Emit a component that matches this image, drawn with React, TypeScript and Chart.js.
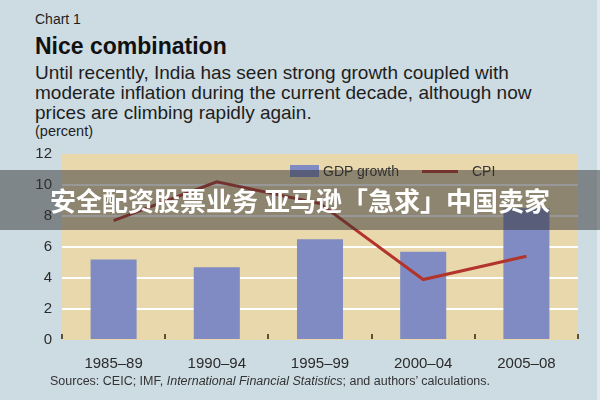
import React, { useEffect, useRef } from "react";
import { Chart, registerables } from "chart.js";

Chart.register(...registerables);

const categories = ["1985–89", "1990–94", "1995–99", "2000–04", "2005–08"];
const gdpGrowth = [5.2, 4.7, 6.5, 5.7, 8.5];
const cpi = [7.7, 10.2, 8.8, 3.9, 5.4];
const yTicks = [0, 2, 4, 6, 8, 10, 12];

const FONT = "'Liberation Sans', Arial, sans-serif";
const BAR = "#7f8bc2";
const LINE = "#b3342b";

const bgPlugin = {
  id: "plotBg",
  beforeDraw(chart: any) {
    const { ctx, chartArea } = chart;
    ctx.save();
    ctx.fillStyle = "#e9d8ac";
    ctx.fillRect(chartArea.left, chartArea.top, chartArea.right - chartArea.left, chartArea.bottom - chartArea.top);
    ctx.restore();
  },
  afterDatasetsDraw(chart: any) {
    const { ctx, chartArea } = chart;
    const n = categories.length;
    const w = (chartArea.right - chartArea.left) / n;
    ctx.save();
    ctx.fillStyle = "#5e5035";
    for (let i = 0; i <= n; i++) {
      const x = chartArea.left + i * w;
      ctx.fillRect(Math.round(x) - 1, chartArea.bottom - 6, 2, 5);
    }
    ctx.restore();
  },
};

export default function App() {
  const ref = useRef<HTMLCanvasElement>(null);
  useEffect(() => {
    document.body.style.margin = "0";
    const chart = new Chart(ref.current!, {
      type: "bar",
      data: {
        labels: categories,
        datasets: [
          {
            type: "line",
            label: "CPI",
            data: cpi,
            borderColor: LINE,
            borderWidth: 3,
            pointRadius: 0,
            tension: 0,
            order: 0,
          } as any,
          {
            type: "bar",
            label: "GDP growth",
            data: gdpGrowth,
            backgroundColor: BAR,
            barPercentage: 0.446,
            categoryPercentage: 1,
            order: 1,
          },
        ],
      },
      options: {
        animation: false,
        responsive: false,
        maintainAspectRatio: false,
        layout: { padding: { top: 154, right: 22, left: 0, bottom: 0 } },
        plugins: { legend: { display: false }, tooltip: { enabled: false }, title: { display: false } },
        scales: {
          x: {
            grid: { display: false },
            border: { display: false },
            ticks: { color: "#2b2b2b", font: { family: FONT, size: 15 }, padding: 7, maxRotation: 0 },
            afterFit: (s: any) => { s.height = 60; },
          },
          y: {
            min: 0,
            max: 12,
            afterBuildTicks: (s: any) => { s.ticks = yTicks.map((v) => ({ value: v })); },
            grid: {
              color: (c: any) => (c.tick && (c.tick.value === 0 || c.tick.value === 12) ? "rgba(0,0,0,0)" : "#ffffff"),
              lineWidth: 2,
              drawTicks: false,
            },
            border: { display: false },
            ticks: { color: "#2b2b2b", font: { family: FONT, size: 15 }, padding: 10 },
            afterFit: (s: any) => { s.width = 62; },
          },
        },
      },
      plugins: [bgPlugin],
    });
    return () => chart.destroy();
  }, []);

  const txt = (top: number, size: number, extra: React.CSSProperties = {}): React.CSSProperties => ({
    position: "absolute",
    left: 35,
    top,
    fontFamily: FONT,
    fontSize: size,
    lineHeight: "20px",
    color: "#1e1e1e",
    whiteSpace: "nowrap",
    ...extra,
  });

  return (
    <div style={{ position: "relative", width: 600, height: 400, background: "#e2eaee", overflow: "hidden" }}>
      <div style={{ position: "absolute", left: 0, top: 0, width: 597, height: 400, background: "#cddbe3" }} />
      <div style={txt(9, 14)}>Chart 1</div>
      <div style={txt(36, 23, { fontWeight: "bold", color: "#111" })}>Nice combination</div>
      <div style={txt(63, 19)}>Until recently, India has seen strong growth coupled with</div>
      <div style={txt(83, 19)}>moderate inflation during the current decade, although now</div>
      <div style={txt(103, 19)}>prices are climbing rapidly again.</div>
      <div style={txt(121, 14.5)}>(percent)</div>
      <canvas ref={ref} width={600} height={400} style={{ position: "absolute", left: 0, top: 0 }} />
      <div style={{ position: "absolute", left: 290, top: 165, width: 29, height: 12, background: BAR }} />
      <div style={txt(161, 14, { left: 323, color: "#333" })}>GDP growth</div>
      <div style={{ position: "absolute", left: 422, top: 170, width: 36, height: 3, background: LINE }} />
      <div style={txt(161, 14, { left: 472, color: "#333" })}>CPI</div>
      <div style={txt(371, 12.5, { left: 50, color: "#333" })}>
        Sources: CEIC; IMF, <i>International Financial Statistics</i>; and authors’ calculations.
      </div>
      <div
        style={{
          position: "absolute",
          left: 0,
          top: 170,
          width: 600,
          height: 60,
          background: "rgba(50,50,50,0.5)",
        }}
      />
      <div
        style={{
          position: "absolute",
          left: 0,
          top: 170,
          width: 600,
          height: 60,
          lineHeight: "60px",
          textAlign: "center",
          color: "#ffffff",
          fontFamily: "'Noto Sans CJK SC', sans-serif",
          fontWeight: "bold",
          fontSize: 26,
          whiteSpace: "nowrap",
        }}
      >
        安全配资股票业务 亚马逊「急求」中国卖家
      </div>
    </div>
  );
}
